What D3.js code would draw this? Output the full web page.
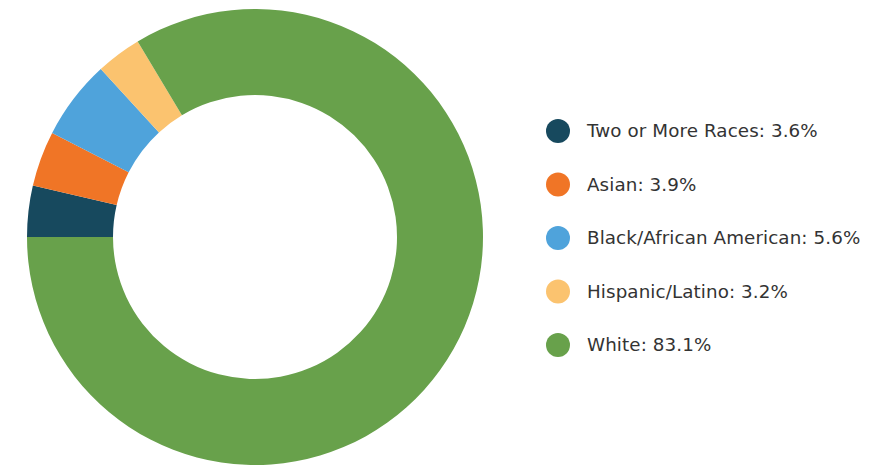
<!DOCTYPE html>
<html>
<head>
<meta charset="utf-8">
<script src="https://cdn.jsdelivr.net/npm/d3@7"></script>
<style>
  html, body { margin: 0; padding: 0; background: #ffffff; }
  svg { display: block; }
</style>
</head>
<body>
<svg id="chart" width="876" height="468"></svg>
<script>
// Race / ethnicity breakdown
const categories = ["Two or More Races", "Asian", "Black/African American", "Hispanic/Latino", "White"];
const values = [3.6, 3.9, 5.6, 3.2, 83.1];
const colors = ["#17495e", "#f07526", "#4fa3db", "#fbc36f", "#68a14b"];

const data = categories.map((c, i) => ({ name: c, value: values[i], color: colors[i] }));

const svg = d3.select("#chart");
const cx = 255, cy = 237;
const outerR = 228, innerR = 142;

// Slices start at 9 o'clock and run clockwise
const pie = d3.pie()
  .value(d => d.value)
  .sort(null)
  .startAngle(-Math.PI / 2)
  .endAngle(Math.PI * 1.5);

const arc = d3.arc().innerRadius(innerR).outerRadius(outerR);

svg.append("g")
  .attr("transform", `translate(${cx},${cy})`)
  .selectAll("path")
  .data(pie(data))
  .join("path")
  .attr("d", arc)
  .attr("fill", d => d.data.color);

// Legend
const legendY = d3.scalePoint().domain(categories).range([131, 345]);

const legend = svg.append("g")
  .selectAll("g")
  .data(data)
  .join("g")
  .attr("transform", d => `translate(558,${legendY(d.name)})`);

legend.append("circle")
  .attr("r", 12)
  .attr("fill", d => d.color);

legend.append("text")
  .attr("x", 29)
  .attr("dy", "0.35em")
  .attr("font-family", "DejaVu Sans, sans-serif")
  .attr("font-size", 18.3)
  .attr("letter-spacing", 0.1)
  .attr("fill", "#333333")
  .text(d => `${d.name}: ${d.value}%`);
</script>
</body>
</html>
